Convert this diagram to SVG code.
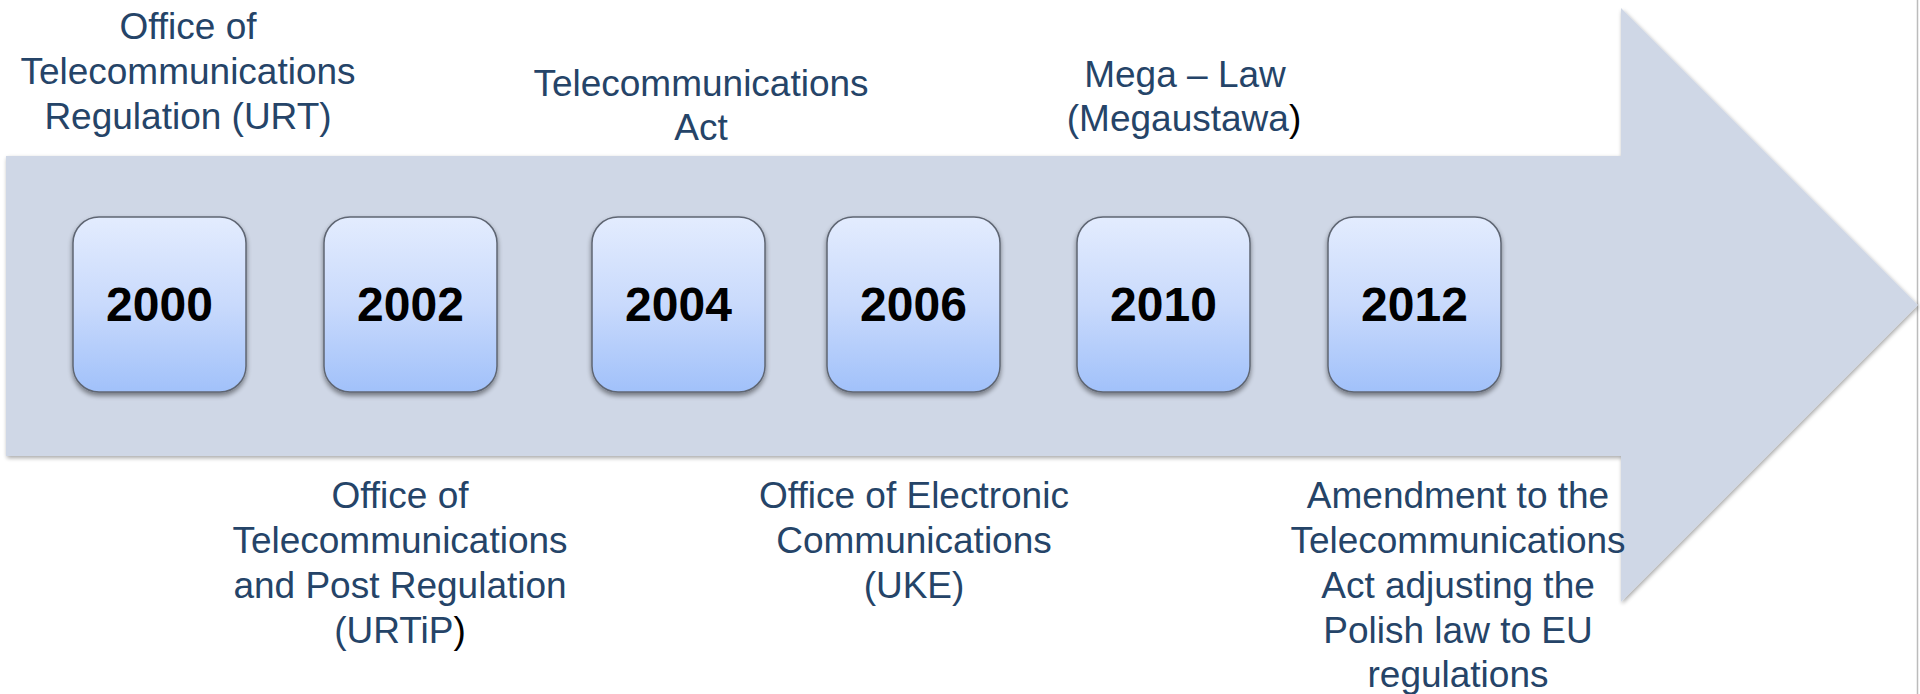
<svg xmlns="http://www.w3.org/2000/svg" width="1920" height="694" viewBox="0 0 1920 694">
  <style>
    .lbl { font-family: "Liberation Sans", Arial, sans-serif; font-size: 37px; fill: #254468; text-anchor: middle; }
    .yr { font-family: "Liberation Sans", Arial, sans-serif; font-size: 48px; font-weight: bold; fill: #000; text-anchor: middle; }
    .box { fill: url(#boxGrad); stroke: #5f6673; stroke-width: 1.5; filter: url(#boxShadow); }
    .blk { fill: #000; }
  </style>
  <defs>
    <linearGradient id="boxGrad" x1="0" y1="0" x2="0" y2="1">
      <stop offset="0" stop-color="#e3ecfe"/>
      <stop offset="0.5" stop-color="#c9dafc"/>
      <stop offset="1" stop-color="#a1c1fa"/>
    </linearGradient>
    <filter id="boxShadow" x="-10%" y="-10%" width="120%" height="125%">
      <feGaussianBlur in="SourceAlpha" stdDeviation="2.5"/>
      <feOffset dx="0" dy="3" result="b"/>
      <feComponentTransfer><feFuncA type="linear" slope="0.45"/></feComponentTransfer>
      <feMerge><feMergeNode/><feMergeNode in="SourceGraphic"/></feMerge>
    </filter>
    <filter id="arrowShadow" x="-2%" y="-5%" width="104%" height="110%">
      <feGaussianBlur in="SourceAlpha" stdDeviation="2"/>
      <feOffset dx="1" dy="2" result="b"/>
      <feComponentTransfer><feFuncA type="linear" slope="0.35"/></feComponentTransfer>
      <feMerge><feMergeNode/><feMergeNode in="SourceGraphic"/></feMerge>
    </filter>
  </defs>

  <rect width="1920" height="694" fill="#ffffff"/>
  <line x1="1917.5" y1="0" x2="1917.5" y2="694" stroke="#bcbcbc" stroke-width="1.5"/>

  <!-- timeline arrow -->
  <g id="timeline-arrow">
    <path d="M6,156 H1621 V8 L1918,305 L1621,602 V456 H6 Z" fill="#cfd7e6" filter="url(#arrowShadow)"/>
  </g>

  <g id="connectors"></g>

  <!-- year boxes -->
  <g id="y2000">
    <rect class="box" x="73" y="217" width="173" height="175" rx="26"/>
    <text class="yr" x="159.5" y="321">2000</text>
  </g>
  <g id="y2002">
    <rect class="box" x="324" y="217" width="173" height="175" rx="26"/>
    <text class="yr" x="410.5" y="321">2002</text>
  </g>
  <g id="y2004">
    <rect class="box" x="592" y="217" width="173" height="175" rx="26"/>
    <text class="yr" x="678.5" y="321">2004</text>
  </g>
  <g id="y2006">
    <rect class="box" x="827" y="217" width="173" height="175" rx="26"/>
    <text class="yr" x="913.5" y="321">2006</text>
  </g>
  <g id="y2010">
    <rect class="box" x="1077" y="217" width="173" height="175" rx="26"/>
    <text class="yr" x="1163.5" y="321">2010</text>
  </g>
  <g id="y2012">
    <rect class="box" x="1328" y="217" width="173" height="175" rx="26"/>
    <text class="yr" x="1414.5" y="321">2012</text>
  </g>

  <!-- event labels -->
  <g id="label-urt">
    <text class="lbl" x="188" y="39">Office of</text>
    <text class="lbl" x="188" y="84">Telecommunications</text>
    <text class="lbl" x="188" y="129">Regulation (URT)</text>
  </g>
  <g id="label-urtip">
    <text class="lbl" x="400" y="508">Office of</text>
    <text class="lbl" x="400" y="553">Telecommunications</text>
    <text class="lbl" x="400" y="598">and Post Regulation</text>
    <text class="lbl" x="400" y="643">(URTiP<tspan class="blk">)</tspan></text>
  </g>
  <g id="label-act">
    <text class="lbl" x="701" y="96">Telecommunications</text>
    <text class="lbl" x="701" y="140">Act</text>
  </g>
  <g id="label-uke">
    <text class="lbl" x="914" y="508">Office of Electronic</text>
    <text class="lbl" x="914" y="553">Communications</text>
    <text class="lbl" x="914" y="598">(UKE)</text>
  </g>
  <g id="label-megalaw">
    <text class="lbl" x="1185" y="87">Mega – Law</text>
    <text class="lbl" x="1184" y="131">(Megaustawa<tspan class="blk">)</tspan></text>
  </g>
  <g id="label-amendment">
    <text class="lbl" x="1458" y="508">Amendment to the</text>
    <text class="lbl" x="1458" y="553">Telecommunications</text>
    <text class="lbl" x="1458" y="598">Act adjusting the</text>
    <text class="lbl" x="1458" y="643">Polish law to EU</text>
    <text class="lbl" x="1458" y="687">regulations</text>
  </g>
</svg>
